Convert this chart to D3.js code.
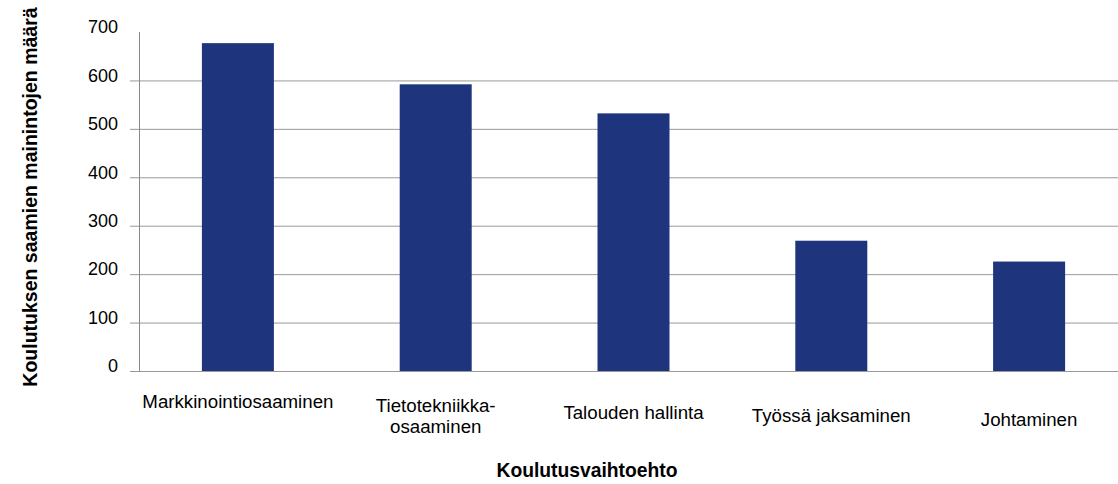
<html>
<head>
<meta charset="utf-8" />
<script src="https://cdn.jsdelivr.net/npm/d3@7/dist/d3.min.js"></script>
<style type="text/css">
body { margin: 0; background: #fff; }
text { font-family: "Liberation Sans", Arial, sans-serif; fill: #000; }
.grid line { stroke: #999; stroke-width: 1; }
.grid path { display: none; }
.yaxis text { font-size: 18px; }
</style>
</head>
<body>
<svg width="1118" height="484"></svg>
<script type="text/javascript">
// data
var v_Categories = ["Markkinointiosaaminen", "Tietotekniikka-\nosaaminen", "Talouden hallinta", "Työssä jaksaminen", "Johtaminen"];
var v_Values     = [677, 592, 532, 269, 226];
var v_YTicks     = [0, 100, 200, 300, 400, 500, 600, 700];
var v_XTitle     = "Koulutusvaihtoehto";
var v_YTitle     = "Koulutuksen saamien mainintojen määrä";

// small vertical offsets of the category labels under the axis (as in the original)
var v_LabelDy = [37, 41, 48, 51, 55];

var v_SVG = d3.select("svg");
var v_Left = 139, v_Right = 1128, v_Top = 32, v_Bottom = 371;

var v_xScale = d3.scaleBand()
                 .domain(v_Categories)
                 .range([v_Left, v_Right])
                 .paddingInner(0.636)
                 .paddingOuter(0.318);
var v_yScale = d3.scaleLinear()
                 .domain([0, 700])
                 .range([v_Bottom, v_Top]);

// gridlines + y ticks
var v_Grid = v_SVG.append("g")
                  .attr("class", "grid")
                  .attr("transform", "translate(" + v_Left + ",0)")
                  .call(d3.axisLeft(v_yScale)
                          .tickValues(v_YTicks.filter(function(d){ return d < 700; }))
                          .tickSize(-(1118 - v_Left))
                          .tickFormat(""));
v_Grid.selectAll(".tick line").attr("x1", -9);

var v_YAxis = v_SVG.append("g")
                   .attr("class", "yaxis")
                   .attr("transform", "translate(" + v_Left + ",0)")
                   .call(d3.axisLeft(v_yScale).tickValues(v_YTicks).tickSize(0).tickPadding(21));
v_YAxis.select(".domain").remove();
v_YAxis.selectAll("text").attr("dy", "0.32em").attr("y", -5).attr("fill", "#000");

// vertical axis line
v_SVG.append("line")
     .attr("x1", v_Left + 0.5).attr("x2", v_Left + 0.5)
     .attr("y1", v_Top).attr("y2", v_Bottom)
     .attr("stroke", "#888");

// bars
v_SVG.selectAll(".bar")
     .data(v_Values)
     .enter()
     .append("rect")
     .attr("class", "bar")
     .attr("x", function(d, i){ return v_xScale(v_Categories[i]); })
     .attr("y", function(d){ return v_yScale(d); })
     .attr("width", v_xScale.bandwidth())
     .attr("height", function(d){ return v_yScale(0) - v_yScale(d); })
     .attr("fill", "#1e357e");

// category labels
var v_Labels = v_SVG.selectAll(".xlabel")
     .data(v_Categories)
     .enter()
     .append("text")
     .attr("class", "xlabel")
     .attr("text-anchor", "middle")
     .attr("font-size", "18.7px")
     .attr("transform", function(d, i)
     {
         return "translate(" + (v_xScale(d) + v_xScale.bandwidth() / 2) + "," + (v_Bottom + v_LabelDy[i]) + ")";
     });
v_Labels.each(function(d)
{
    var v_Lines = d.split("\n");
    var v_T = d3.select(this);
    v_Lines.forEach(function(s, k)
    {
        v_T.append("tspan").attr("x", 0).attr("y", k * 21).text(s);
    });
});

// axis titles
v_SVG.append("text")
     .attr("x", 587).attr("y", 477)
     .attr("text-anchor", "middle")
     .attr("font-size", "19.3px")
     .attr("font-weight", "bold")
     .text(v_XTitle);

v_SVG.append("text")
     .attr("transform", "translate(37,197) rotate(-90)")
     .attr("text-anchor", "middle")
     .attr("font-size", "19.5px")
     .attr("font-weight", "bold")
     .text(v_YTitle);
</script>
</body>
</html>
